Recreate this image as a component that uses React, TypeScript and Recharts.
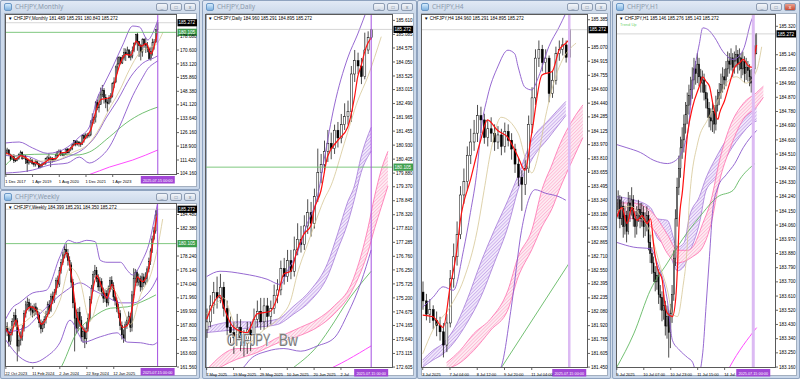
import React from 'react';
import { ComposedChart, Bar, Line, Area, XAxis, YAxis, ReferenceLine } from 'recharts';

const FONT = '"Liberation Sans", Arial, sans-serif';
const RED = '#ff1010';
const TAN = '#d6c795';
const BB = '#8a58cc';
const GRN = '#4fb04f';
const MAG = '#ff4cff';
const LAST = 185.272;
const LEVEL = 180.105;
const NOW_LABEL = '2025.07.15 00:00';

type Pt = [number, number];
type Rb = [number, number, number];

// ---------- Monthly (Dec 2017 .. Jul 2025) ----------
const mXTicks: [number, string][] = [[0, '1 Dec 2017'], [16, '1 Apr 2019'], [32, '1 Aug 2020'], [48, '1 Dec 2021'], [64, '1 Apr 2023']];
const mYTicks = [104.16, 111.42, 118.9, 126.16, 133.64, 141.12, 148.38, 155.86, 163.12, 170.6, 178.08];
const mClose = [
  115.6, 116.8, 114.3, 111.9, 113.9, 111.0, 111.3, 112.3, 114.3, 115.6, 112.2, 113.5, 111.6,
  109.8, 111.3, 111.5, 109.6, 109.1, 110.8, 109.4, 107.4, 108.2, 109.3, 109.3, 112.1,
  112.6, 111.7, 112.5, 111.1, 111.6, 113.7, 115.8, 116.2, 114.6, 114.1, 114.6, 117.3,
  115.3, 117.2, 117.4, 119.6, 121.8, 119.9, 121.1, 120.2, 119.7, 124.5, 123.1, 124.9,
  124.4, 124.9, 131.4, 133.0, 134.2, 142.3, 139.5, 141.4, 146.5, 148.9, 145.0, 142.6,
  141.9, 144.5, 145.8, 152.5, 153.4, 161.5, 163.1, 166.6, 163.6, 166.3, 169.4, 168.5,
  170.6, 166.6, 167.4, 170.4, 174.3, 178.9, 175.1, 173.0, 169.5, 176.4, 173.6, 173.2,
  171.2, 165.9, 169.8, 174.6, 174.9, 181.49, 185.272,
];
const mHigh = [
  116.3, 118.0, 117.3, 114.8, 114.3, 114.6, 112.4, 113.3, 115.0, 116.5, 116.1, 114.5, 114.1,
  112.0, 111.9, 112.5, 111.9, 110.2, 111.4, 111.1, 110.0, 109.3, 109.9, 110.3, 112.6,
  113.7, 114.8, 113.4, 113.0, 112.5, 114.8, 116.3, 117.1, 117.0, 115.2, 115.7, 117.7,
  117.9, 117.9, 118.5, 120.3, 122.1, 122.1, 122.0, 121.6, 121.2, 125.2, 125.5, 125.8,
  126.0, 126.2, 132.8, 136.5, 135.3, 143.2, 144.0, 146.8, 150.4, 151.8, 150.1, 146.8,
  144.1, 146.3, 147.4, 153.2, 155.9, 162.2, 166.8, 167.3, 167.0, 167.9, 171.6, 171.4,
  172.4, 171.1, 169.9, 172.5, 174.6, 179.3, 180.0, 175.4, 173.9, 176.9, 176.9, 177.3,
  174.9, 172.1, 172.1, 176.7, 176.5, 181.9, 185.291,
];
const mLow = [
  113.6, 114.8, 113.5, 110.8, 111.5, 109.8, 110.3, 110.8, 111.5, 113.4, 111.5, 111.9, 109.3,
  105.0, 108.9, 109.9, 108.9, 107.8, 107.9, 108.6, 106.8, 107.0, 107.7, 108.7, 109.0,
  111.3, 110.0, 107.6, 110.0, 110.4, 111.2, 112.8, 114.9, 113.5, 113.5, 113.4, 114.3,
  114.9, 114.8, 116.1, 116.7, 118.9, 118.8, 119.2, 118.6, 118.5, 119.5, 120.8, 122.6,
  123.1, 123.5, 124.2, 130.5, 130.8, 131.6, 138.2, 137.0, 141.1, 145.2, 141.8, 139.3,
  137.4, 141.3, 142.3, 145.0, 150.2, 152.8, 158.0, 162.1, 162.9, 163.1, 165.0, 164.7,
  167.8, 166.2, 165.0, 166.1, 169.4, 173.1, 170.2, 166.9, 165.0, 167.0, 171.8, 169.0,
  169.4, 165.2, 164.9, 167.6, 170.8, 174.4, 180.843,
];
const mRed: Pt[] = [[0, 115.2], [3, 114.0], [6, 111.8], [9, 113.8], [12, 112.6], [15, 110.6], [18, 109.9], [21, 108.6], [24, 110.5], [27, 112.2], [30, 112.2], [33, 115.3], [36, 115.6], [39, 117.8], [42, 120.3], [45, 120.1], [48, 123.9], [51, 128.0], [54, 137.8], [57, 144.0], [60, 144.5], [63, 145.3], [66, 156.0], [69, 164.5], [72, 168.2], [75, 167.8], [78, 175.4], [81, 172.6], [84, 174.0], [87, 168.6], [89, 173.2], [91, 180.7]];
const mTan: Pt[] = [[0, 114.5], [10, 113.0], [20, 110.8], [30, 111.3], [40, 115.5], [50, 120.5], [56, 128.5], [62, 139.0], [68, 148.5], [74, 160.0], [80, 169.0], [86, 172.0], [90, 173.5], [94, 180.0]];
const mBBUp: Pt[] = [[0, 120.6], [8, 121.1], [16, 117.9], [25, 115.0], [31, 115.8], [37, 118.4], [44, 123.8], [50, 129.2], [55, 145.3], [58, 150.7], [64, 161.5], [70, 173.3], [76, 183.5], [80, 183.0], [85, 176.0], [88, 179.7], [91, 186.7]];
const mBBMid: Pt[] = [[0, 113.8], [12, 113.5], [24, 110.0], [36, 112.8], [48, 118.5], [54, 124.5], [60, 134.0], [67, 143.7], [75, 156.5], [82, 163.5], [89, 166.5], [91, 167.5]];
const mBBLow: Pt[] = [[0, 104.4], [16, 106.0], [26, 108.7], [37, 109.8], [44, 113.0], [50, 109.8], [56, 112.5], [62, 118.4], [68, 129.2], [76, 146.0], [82, 156.0], [85, 160.5], [89, 163.6], [91, 164.8]];
const mGreen: Pt[] = [[0, 108.7], [8, 114.1], [26, 114.6], [42, 114.1], [50, 115.7], [62, 123.8], [72, 131.3], [82, 136.7], [91, 139.9]];
const mMag: Pt[] = [[46, 102.5], [50, 103.6], [62, 107.6], [76, 111.4], [91, 116.8]];

// ---------- Weekly (22 Oct 2023 .. 13 Jul 2025) ----------
const wXTicks: [number, string][] = [[0, '22 Oct 2023'], [16, '11 Feb 2024'], [32, '2 Jun 2024'], [48, '22 Sep 2024'], [64, '12 Jan 2025']];
const wYTicks = [161.56, 163.6, 165.7, 167.8, 169.9, 171.96, 174.04, 176.14, 178.24, 182.38, 184.48];
const wClose = [
  167.6, 166.9, 165.4, 166.8, 168.4, 169.3, 168.5, 164.7, 165.6, 166.2, 167.4,
  169.6, 170.9, 171.3, 170.6, 170.1, 169.8, 170.6, 169.9, 169.4, 168.2, 167.3, 167.9,
  168.7, 169.5, 171.0, 170.1, 172.2, 171.6, 172.8, 174.6, 174.0, 176.1, 177.3, 178.4,
  179.2, 178.6, 177.6, 176.9, 174.3, 171.2, 168.9, 167.4, 169.8, 168.6, 166.1, 166.9,
  165.8, 167.4, 168.9, 171.7, 173.4, 175.5, 176.1, 174.9, 173.6, 174.4, 172.8, 171.9,
  172.6, 171.2, 173.3, 174.6, 173.8, 172.1, 171.5, 170.4, 169.6, 167.8, 166.4, 165.9,
  167.9, 168.6, 169.2, 167.5, 172.4, 174.9, 175.8, 174.3, 174.8, 173.6, 175.1, 174.2,
  174.9, 176.3, 177.4, 179.0, 180.8, 182.0, 184.4, 185.272,
];
const wHigh = [
  168.4, 168.3, 167.4, 167.3, 168.9, 169.8, 170.3, 168.9, 166.4, 166.9, 167.9,
  170.1, 171.5, 172.0, 171.8, 171.2, 170.8, 171.1, 171.2, 170.5, 169.8, 168.7, 168.5,
  169.2, 170.0, 171.4, 171.6, 172.6, 172.9, 173.3, 175.0, 175.3, 176.6, 177.8, 178.9,
  179.8, 180.1, 179.3, 178.2, 177.3, 174.8, 171.9, 170.2, 170.4, 170.6, 169.2, 167.8,
  167.5, 168.3, 169.6, 172.2, 173.9, 176.0, 176.9, 176.6, 175.5, 175.1, 174.9, 173.5,
  173.2, 173.1, 173.8, 175.1, 175.2, 174.3, 172.9, 172.0, 171.1, 170.1, 168.4, 167.2,
  168.4, 169.1, 169.9, 169.7, 173.0, 176.4, 176.3, 176.1, 175.6, 175.3, 175.7, 175.6,
  175.8, 176.7, 178.0, 179.4, 181.3, 182.6, 185.1, 185.291,
];
const wLow = [
  166.4, 166.2, 164.6, 164.9, 166.3, 167.8, 167.6, 162.4, 163.9, 164.8, 165.5,
  166.9, 169.0, 170.1, 169.9, 169.3, 169.0, 169.2, 169.4, 168.7, 167.5, 166.6, 166.8,
  167.4, 168.1, 169.1, 169.5, 169.8, 171.0, 171.2, 172.4, 173.4, 173.6, 175.6, 176.9,
  177.9, 178.0, 176.8, 176.0, 173.5, 170.4, 163.9, 166.6, 166.9, 167.6, 165.4, 165.2,
  164.4, 165.0, 166.9, 168.4, 171.1, 172.9, 175.0, 174.3, 173.0, 172.9, 172.2, 171.2,
  171.3, 170.6, 170.8, 172.8, 173.2, 171.5, 170.8, 169.8, 168.9, 167.1, 165.7, 165.2,
  165.4, 167.3, 168.0, 166.8, 166.9, 171.9, 174.2, 173.7, 173.8, 172.9, 173.1, 173.6,
  173.9, 174.3, 175.8, 176.9, 178.7, 180.6, 181.6, 184.35,
];
const wRed: Pt[] = [[0, 167.3], [3, 166.4], [6, 168.6], [9, 165.9], [12, 170.0], [15, 170.6], [18, 170.1], [21, 168.0], [24, 168.9], [27, 171.0], [30, 173.4], [33, 176.6], [36, 178.8], [39, 175.2], [42, 169.4], [45, 167.6], [48, 166.8], [51, 172.3], [54, 175.3], [57, 173.5], [60, 171.9], [63, 174.0], [66, 171.2], [69, 167.5], [72, 167.8], [75, 170.5], [78, 175.1], [81, 174.4], [84, 175.6], [87, 179.9], [89, 183.3], [90, 184.6]];
const wTan: Pt[] = [[0, 167.5], [8, 167.8], [14, 168.9], [20, 170.2], [26, 169.0], [32, 171.5], [38, 176.5], [44, 174.5], [50, 168.5], [56, 172.5], [62, 173.5], [68, 171.5], [74, 168.0], [80, 172.5], [86, 175.5], [90, 179.5], [93, 183.8]];
const wBBUp: Pt[] = [[0, 168.8], [4, 170.5], [8, 171.2], [16, 172.7], [24, 173.1], [32, 178.1], [37, 180.6], [42, 180.2], [48, 180.6], [53, 180.4], [56, 177.6], [60, 177.3], [68, 177.3], [72, 176.1], [75, 175.4], [81, 177.6], [85, 180.2], [88, 183.7], [90, 186.2]];
const wBBMid: Pt[] = [[0, 166.8], [12, 167.5], [20, 169.5], [26, 171.0], [36, 173.1], [44, 174.2], [52, 173.1], [60, 172.1], [68, 171.2], [76, 171.2], [82, 172.1], [87, 173.6], [90, 175.1]];
const wBBLow: Pt[] = [[0, 165.6], [8, 163.1], [16, 162.2], [24, 163.1], [32, 165.2], [38, 168.6], [44, 166.1], [46, 165.3], [56, 166.1], [66, 166.7], [72, 165.3], [80, 165.2], [87, 164.9], [90, 165.3]];
const wGreen: Pt[] = [[30, 160.5], [32, 161.2], [42, 166.7], [52, 169.1], [62, 170.4], [72, 170.6], [80, 171.3], [89, 172.4]];

// ---------- Daily (7 May .. 15 Jul 2025) ----------
const dXTicks: [number, string][] = [[0, '7 May 2025'], [8, '19 May 2025'], [16, '29 May 2025'], [24, '10 Jun 2025'], [32, '20 Jun 2025'], [40, '2 Jul']];
const dYTicks = [172.605, 173.115, 173.64, 174.165, 174.675, 175.2, 175.725, 176.25, 176.76, 177.285, 177.81, 178.32, 178.845, 179.37, 179.88, 180.405, 180.93, 181.455, 181.965, 182.49, 183.015, 183.525, 184.05, 184.575, 185.085, 185.61];
const dClose = [
  174.3, 174.9, 175.4, 175.2, 175.6, 174.8, 174.1, 173.9, 173.7, 174.1,
  173.6, 173.5, 174.0, 173.8, 174.4, 174.7, 174.3, 174.9, 174.5, 174.8,
  175.3, 175.5, 176.3, 176.0, 176.6, 176.2, 177.0, 177.4, 177.2, 177.9,
  178.4, 178.0, 179.0, 179.9, 180.2, 180.7, 181.0, 180.8, 181.49, 181.2,
  181.7, 182.0, 182.2, 183.6, 184.1, 183.9, 183.5, 184.5, 184.96, 185.272,
];
const dHigh = [
  174.8, 175.3, 175.8, 176.0, 176.1, 175.8, 175.1, 174.5, 174.3, 174.6,
  174.4, 174.0, 174.3, 174.3, 174.8, 175.1, 175.2, 175.2, 175.2, 175.1,
  175.7, 175.9, 176.6, 176.7, 177.0, 177.0, 177.5, 178.0, 177.9, 178.3,
  178.9, 178.8, 179.3, 180.8, 180.6, 181.1, 181.5, 181.4, 181.7, 181.8,
  182.1, 182.5, 182.6, 183.9, 184.5, 184.4, 184.2, 185.15, 185.2, 185.291,
];
const dLow = [
  173.7, 174.1, 174.6, 174.8, 175.0, 174.5, 173.8, 173.5, 173.1, 173.4,
  173.2, 173.0, 173.1, 173.2, 173.5, 174.1, 174.0, 174.0, 174.1, 174.2,
  174.6, 175.0, 175.3, 175.7, 175.8, 175.9, 176.0, 176.8, 176.9, 177.0,
  177.6, 177.5, 177.8, 178.8, 179.5, 179.9, 180.3, 180.4, 180.6, 180.843,
  181.0, 181.5, 181.7, 181.8, 183.3, 183.6, 183.22, 183.4, 184.35, 184.895,
];
const dRed: Pt[] = [[0, 174.4], [2, 175.0], [4, 175.3], [5, 174.9], [8, 174.1], [12, 173.9], [15, 174.6], [19, 174.7], [21, 175.2], [23, 176.1], [25, 176.2], [27, 177.0], [29, 177.6], [31, 177.9], [32, 178.5], [34, 179.2], [36, 180.5], [39, 181.1], [42, 181.6], [44, 182.7], [45, 183.5], [46, 183.9], [47, 184.4], [48, 184.75], [49, 184.95]];
const dTan: Pt[] = [[0, 174.6], [3, 175.0], [5, 175.2], [8, 174.3], [12, 173.5], [17, 174.0], [22, 174.5], [25, 175.1], [27, 176.1], [30, 177.2], [32, 177.9], [35, 178.9], [37, 179.4], [41, 181.0], [45, 182.6], [48, 183.5], [52, 185.0]];
const dBBUp: Pt[] = [[0, 176.0], [4, 176.2], [11, 176.1], [18, 175.9], [22, 175.7], [24, 176.2], [27, 176.9], [30, 178.0], [33, 179.0], [35, 180.4], [38, 182.4], [42, 184.2], [45, 185.1], [48, 186.1]];
const dBBLow: Pt[] = [[0, 172.3], [6, 172.2], [11, 172.6], [13, 172.9], [18, 173.2], [23, 173.3], [28, 173.2], [33, 173.4], [38, 173.7], [42, 174.6], [46, 175.8], [49, 177.0]];
const dRibA: Rb[] = [[0, 173.9, 174.1], [8, 174.0, 174.3], [15, 174.1, 174.3], [21, 174.2, 174.4], [26, 174.6, 174.9], [31, 175.1, 175.5], [36, 176.0, 176.5], [39, 177.0, 177.6], [42, 178.0, 178.8], [44, 178.9, 179.4], [46, 179.9, 180.5], [49, 180.7, 181.6]];
const dRibB: Rb[] = [[0, 172.3, 172.5], [9, 172.9, 173.3], [14, 173.1, 173.3], [21, 173.5, 173.7], [28, 173.8, 174.1], [33, 174.1, 174.4], [38, 174.6, 174.9], [43, 175.4, 175.7], [46, 176.2, 176.8], [48, 176.9, 177.8], [50, 177.8, 179.0], [52, 178.6, 180.0], [54, 179.4, 180.7]];
const dGreen: Pt[] = [[24, 172.4], [25, 172.5], [33, 173.4], [38, 174.3], [41, 174.9], [49, 176.2]];
const dMag: Pt[] = [[34, 172.4], [35, 172.45], [49, 173.4]];

// ---------- H4 (3 Jul 20:00 .. 15 Jul 00:00) ----------
const h4XTicks: [number, string][] = [[0, '3 Jul 2025'], [8, '7 Jul 04:00'], [16, '8 Jul 12:00'], [24, '9 Jul 20:00'], [32, '11 Jul 04:00']];
const h4YTicks = [181.45, 181.605, 181.765, 181.92, 182.08, 182.235, 182.395, 182.55, 182.71, 182.865, 183.025, 183.18, 183.34, 183.495, 183.655, 183.81, 183.97, 184.125, 184.285, 184.44, 184.6, 184.755, 184.915, 185.07, 185.385];
const h4Close = [
  182.20, 182.05, 182.10, 181.98, 181.92, 181.85, 181.70, 181.95, 182.45, 182.70,
  182.95, 183.40, 183.55, 183.85, 184.00, 184.10, 184.30, 184.25, 184.05, 184.15,
  184.10, 184.00, 184.08, 183.95, 184.12, 184.02, 183.92, 183.75, 183.60, 183.52,
  183.70, 184.20, 184.50, 184.95, 185.05, 184.90, 184.95, 184.55, 184.70, 185.00,
  185.05, 185.10, 184.96, 185.272,
];
const h4High = [
  182.42, 182.28, 182.22, 182.15, 182.08, 182.02, 181.95, 182.05, 182.55, 182.85,
  183.10, 183.50, 183.70, 183.95, 184.15, 184.25, 184.42, 184.40, 184.32, 184.25,
  184.28, 184.20, 184.18, 184.15, 184.22, 184.20, 184.10, 183.98, 183.82, 183.68,
  183.80, 184.30, 184.62, 185.05, 185.15, 185.10, 185.05, 184.98, 184.80, 185.08,
  185.15, 185.18, 185.15, 185.291,
];
const h4Low = [
  182.10, 181.98, 181.95, 181.88, 181.80, 181.75, 181.56, 181.62, 181.90, 182.35,
  182.60, 182.90, 183.30, 183.45, 183.75, 183.90, 184.00, 184.10, 183.98, 183.95,
  184.00, 183.90, 183.92, 183.85, 183.88, 183.95, 183.80, 183.65, 183.50, 183.22,
  183.40, 183.65, 184.10, 184.42, 184.85, 184.80, 184.78, 184.45, 184.50, 184.65,
  184.92, 184.98, 184.90, 184.895,
];
const h4Red: Pt[] = [[0, 182.04], [3, 182.02], [6, 181.9], [8, 182.35], [10, 182.77], [11, 183.1], [14, 183.57], [17, 184.02], [19, 184.25], [22, 184.13], [25, 184.05], [28, 183.83], [30, 183.68], [32, 184.1], [35, 184.76], [38, 184.8], [40, 185.04], [42, 185.12], [43, 185.16]];
const h4Tan: Pt[] = [[0, 181.6], [3, 181.87], [8, 182.13], [12, 182.44], [16, 183.0], [18, 183.45], [20, 183.9], [23, 184.28], [28, 184.1], [30, 183.83], [32, 183.65], [34, 183.87], [36, 184.28], [39, 184.74], [41, 184.93], [45, 185.12]];
const h4BBUp: Pt[] = [[0, 182.13], [3, 182.24], [6, 182.36], [9, 182.32], [12, 182.78], [14, 183.2], [16, 183.7], [17, 184.1], [19, 184.51], [22, 184.85], [25, 185.04], [27, 185.0], [28, 184.85], [30, 184.62], [32, 184.59], [34, 184.74], [37, 185.08], [40, 185.3], [42, 185.46]];
const h4BBLow: Pt[] = [[0, 181.3], [10, 181.2], [20, 181.3], [23, 181.45], [26, 182.13], [29, 183.0], [33, 183.46], [36, 183.42], [40, 183.38], [42, 183.34]];
const h4RibA: Rb[] = [[0, 181.45, 181.53], [3, 181.53, 181.64], [6, 181.6, 181.72], [9, 181.72, 181.87], [13, 181.95, 182.21], [17, 182.24, 182.63], [21, 182.63, 183.0], [25, 183.04, 183.34], [28, 183.46, 183.62], [32, 183.8, 184.02], [37, 184.05, 184.25], [42, 184.3, 184.46]];
const h4RibB: Rb[] = [[7, 181.43, 181.5], [11, 181.5, 181.64], [15, 181.64, 181.83], [20, 181.87, 182.0], [25, 182.1, 182.32], [28, 182.47, 182.7], [32, 182.78, 183.0], [35, 183.04, 183.46], [38, 183.25, 183.75], [40, 183.45, 183.95], [44, 183.8, 184.25], [47, 184.05, 184.42]];
const h4Green: Pt[] = [[22, 181.38], [43, 182.63]];

// ---------- H1 (9 Jul 15:00 .. 15 Jul 02:00) ----------
const h1XTicks: [number, string][] = [[0, '9 Jul 2025'], [16, '10 Jul 07:00'], [32, '10 Jul 23:00'], [48, '11 Jul 15:00'], [64, '14 Jul']];
const h1YTicks = [183.16, 183.25, 183.34, 183.43, 183.52, 183.61, 183.7, 183.79, 183.88, 183.97, 184.06, 184.15, 184.24, 184.33, 184.42, 184.51, 184.6, 184.69, 184.78, 184.87, 184.96, 185.05, 185.14, 185.32];
const h1Close = [
  184.15, 184.22, 184.10, 184.18, 184.05, 184.12, 184.02, 184.20, 184.15, 184.22,
  184.10, 184.05, 184.12, 184.16, 184.10, 184.14, 184.05, 184.08, 184.12, 183.95,
  183.88, 183.82, 183.76, 183.70, 183.74, 183.62, 183.60, 183.52, 183.55, 183.42,
  183.48, 183.38, 183.50, 183.62, 183.85, 184.10, 184.30, 184.42, 184.55, 184.60,
  184.70, 184.76, 184.82, 184.88, 184.92, 184.98, 185.05, 185.02, 185.08, 185.00,
  184.96, 184.98, 184.90, 184.86, 184.80, 184.74, 184.72, 184.78, 184.70, 184.82,
  184.86, 184.90, 184.95, 185.00, 184.98, 185.05, 185.10, 185.08, 185.12, 185.06,
  185.10, 185.14, 185.08, 185.12, 185.05, 185.10, 185.02, 185.06, 185.04, 185.00,
  184.96, 185.05, 185.146, 185.272,
];
const h1High = [
  184.26, 184.28, 184.25, 184.24, 184.21, 184.18, 184.15, 184.27, 184.25, 184.30,
  184.25, 184.15, 184.18, 184.22, 184.20, 184.20, 184.18, 184.14, 184.18, 184.15,
  184.00, 183.92, 183.86, 183.80, 183.80, 183.78, 183.68, 183.64, 183.62, 183.58,
  183.55, 183.52, 183.56, 183.68, 183.90, 184.16, 184.36, 184.50, 184.62, 184.68,
  184.76, 184.84, 184.90, 184.95, 185.00, 185.06, 185.12, 185.10, 185.15, 185.12,
  185.05, 185.04, 185.02, 184.95, 184.90, 184.84, 184.80, 184.84, 184.82, 184.88,
  184.92, 184.96, 185.02, 185.06, 185.05, 185.10, 185.16, 185.15, 185.18, 185.15,
  185.16, 185.20, 185.17, 185.18, 185.15, 185.16, 185.13, 185.12, 185.10, 185.08,
  185.05, 185.10, 185.20, 185.276,
];
const h1Low = [
  184.08, 184.10, 184.04, 184.06, 183.98, 184.00, 183.95, 184.00, 184.08, 184.12,
  184.05, 183.98, 184.00, 184.08, 184.04, 184.05, 183.98, 183.99, 184.02, 183.90,
  183.82, 183.75, 183.70, 183.64, 183.65, 183.56, 183.52, 183.45, 183.46, 183.36,
  183.34, 183.22, 183.28, 183.44, 183.58, 183.80, 184.05, 184.25, 184.36, 184.48,
  184.52, 184.64, 184.70, 184.76, 184.82, 184.86, 184.92, 184.95, 184.96, 184.94,
  184.90, 184.90, 184.85, 184.80, 184.74, 184.68, 184.66, 184.65, 184.64, 184.66,
  184.78, 184.82, 184.86, 184.90, 184.92, 184.94, 185.00, 185.02, 185.04, 185.00,
  185.02, 185.06, 185.02, 185.04, 184.99, 185.01, 184.96, 184.98, 184.97, 184.94,
  184.90, 184.895, 185.02, 185.143,
];
const h1Red: Pt[] = [[0, 184.11], [3, 184.17], [6, 184.07], [9, 184.17], [12, 184.09], [15, 184.12], [18, 184.07], [20, 184.1], [22, 183.92], [24, 183.79], [27, 183.71], [28, 183.6], [30, 183.5], [33, 183.48], [35, 183.6], [36, 183.79], [37, 184.07], [39, 184.28], [42, 184.64], [45, 184.81], [49, 184.94], [51, 185.0], [53, 184.97], [55, 184.94], [57, 184.83], [60, 184.73], [61, 184.77], [64, 184.85], [67, 184.96], [70, 185.06], [73, 185.09], [75, 185.11], [78, 185.07], [80, 185.06], [82, 185.15], [83, 185.2]];
const h1Tan: Pt[] = [[0, 184.15], [8, 184.18], [14, 184.12], [20, 184.01], [26, 183.79], [30, 183.65], [33, 183.5], [36, 183.48], [39, 183.65], [42, 183.97], [43, 184.2], [48, 184.58], [54, 184.73], [60, 184.85], [65, 184.96], [71, 185.0], [77, 184.96], [83, 185.04], [86, 185.19]];
const h1BBUp: Pt[] = [[0, 184.57], [6, 184.55], [14, 184.52], [22, 184.47], [30, 184.45], [35, 184.47], [42, 184.64], [45, 184.96], [49, 185.21], [51, 185.31], [54, 185.3], [58, 185.25], [63, 185.16], [69, 185.11], [75, 185.17], [80, 185.36], [83, 185.42]];
const h1BBLow: Pt[] = [[0, 183.95], [10, 183.92], [20, 183.91], [24, 183.82], [30, 183.58], [33, 183.33], [37, 183.27], [42, 183.22], [45, 183.19], [48, 183.1], [51, 183.25], [53, 183.55], [55, 183.86], [57, 184.16], [60, 184.3], [65, 184.38], [70, 184.45], [75, 184.55], [83, 184.66]];
const h1RibA: Rb[] = [[0, 184.16, 184.24], [10, 184.12, 184.22], [20, 184.07, 184.17], [24, 183.98, 184.1], [30, 183.92, 184.09], [36, 183.77, 183.92], [40, 183.8, 183.95], [43, 183.88, 184.11], [49, 184.07, 184.24], [53, 184.28, 184.36], [59, 184.36, 184.49], [65, 184.49, 184.6], [73, 184.62, 184.71], [81, 184.71, 184.79], [83, 184.72, 184.81]];
const h1RibB: Rb[] = [[0, 184.12, 184.2], [9, 184.1, 184.2], [20, 184.05, 184.15], [24, 184.0, 184.1], [30, 183.88, 184.0], [36, 183.82, 183.9], [42, 183.84, 183.9], [45, 183.86, 183.92], [51, 183.92, 184.07], [56, 184.07, 184.22], [61, 184.34, 184.47], [67, 184.54, 184.68], [75, 184.73, 184.83], [83, 184.81, 184.9], [87, 184.87, 184.94]];
const h1Green: Pt[] = [[0, 183.16], [10, 183.37], [20, 183.65], [30, 183.82], [39, 183.97], [49, 184.11], [60, 184.24], [69, 184.28], [73, 184.35], [82, 184.45]];
const h1Mag: Pt[] = [[66, 183.14], [67, 183.16], [83, 183.41]];

// ---------- components ----------
type LineSpec = { key: string; pts: Pt[]; color: string; w: number };
type RibSpec = { key: string; pts: Rb[]; edge: string; fill: string };
type PanelSpec = {
  left: number; top: number; w: number; h: number; axisW: number; slots: number;
  open0: number; close: number[]; high: number[]; low: number[];
  domain: [number, number]; yTicks: number[]; xTicks: [number, string][];
  vIdx: number; vColor: string; vWidth: number; barSize: number;
  lines: LineSpec[]; ribs: RibSpec[]; level?: boolean; header: string;
};

function buildRows(p: PanelSpec) {
  const rows: any[] = [];
  for (let i = 0; i < p.slots; i++) {
    const r: any = { i };
    if (i < p.close.length) {
      r.o = i === 0 ? p.open0 : p.close[i - 1];
      r.c = p.close[i];
      r.hl = [p.low[i], p.high[i]];
    }
    rows.push(r);
  }
  p.lines.forEach((l) => l.pts.forEach(([i, v]) => { if (rows[i]) rows[i][l.key] = v; }));
  p.ribs.forEach((rb) => rb.pts.forEach(([i, a, b]) => { if (rows[i]) rows[i][rb.key] = [a, b]; }));
  return rows;
}

const Candle = (p: any) => {
  const { x, y, width, height, payload } = p;
  if (!payload || !payload.hl) return <g />;
  const [lo, hi] = payload.hl;
  const top = Math.min(y, y + height);
  const hgt = Math.abs(height);
  const span = hi - lo || 1;
  const py = (v: number) => top + ((hi - v) / span) * hgt;
  const cx = x + width / 2;
  const yo = py(payload.o);
  const yc = py(payload.c);
  const up = payload.c >= payload.o;
  const bt = Math.min(yo, yc);
  const bh = Math.max(Math.abs(yo - yc), 0.7);
  return (
    <g>
      <line x1={cx} x2={cx} y1={top} y2={top + hgt} stroke="#000" strokeWidth={0.7} />
      <rect x={x} y={bt} width={Math.max(width, 1)} height={bh} fill={up ? '#fff' : '#000'} stroke="#000" strokeWidth={0.5} />
    </g>
  );
};

function XTick(props: any) {
  const { x, y, payload, labels } = props;
  const t = labels[payload.value];
  if (!t) return null;
  return (
    <g>
      <line x1={x} x2={x} y1={y} y2={y + 2} stroke="#000" strokeWidth={0.6} />
      <text x={x - 0.5} y={y + 7.5} fontSize={4} fontFamily={FONT} fill="#000">{t}</text>
    </g>
  );
}

function PriceTag({ vb, text, bg }: { vb: any; text: string; bg: string }) {
  if (!vb) return null;
  const x = vb.x + vb.width + 0.5;
  return (
    <g>
      <rect x={x} y={vb.y - 3.6} width={19.5} height={7.2} fill={bg} />
      <text x={x + 1} y={vb.y + 1.7} fontSize={4.6} fontFamily={FONT} fill="#fff">{text}</text>
    </g>
  );
}

function TimeTag({ vb }: { vb: any }) {
  if (!vb) return null;
  const b = vb.y + vb.height + 1;
  return (
    <g>
      <rect x={vb.x - 17} y={b} width={34} height={7.5} fill="#a246d6" />
      <text x={vb.x} y={b + 5.5} fontSize={3.8} fontFamily={FONT} fill="#fff" textAnchor="middle">{NOW_LABEL}</text>
    </g>
  );
}

function Panel({ d }: { d: PanelSpec }) {
  const rows = buildRows(d);
  const labels: Record<number, string> = {};
  d.xTicks.forEach(([i, s]) => { labels[i] = s; });
  return (
    <>
      <div style={{ position: 'absolute', left: d.left, top: d.top }}>
        <ComposedChart width={d.w + d.axisW} height={d.h + 10} data={rows} margin={{ top: 0, right: 0, bottom: 0, left: 0 }} barCategoryGap={0} barGap={0}>
          <XAxis dataKey="i" type="category" ticks={d.xTicks.map((t) => t[0])} interval={0} height={10} axisLine={false} tickLine={false} tickSize={0} tickMargin={0} tick={(tp: any) => <XTick {...tp} labels={labels} />} />
          <YAxis orientation="right" width={d.axisW} type="number" domain={d.domain} ticks={d.yTicks} allowDataOverflow interval={0} axisLine={false} tickSize={2} tickMargin={1} tickLine={{ stroke: '#000', strokeWidth: 0.6 }} tick={{ fontSize: 4.6, fill: '#000', fontFamily: FONT }} tickFormatter={(v: number) => v.toFixed(3)} />
          {d.ribs.map((rb) => (
            <Area key={rb.key} dataKey={rb.key} type="monotone" stroke={rb.edge} strokeWidth={0.8} fill={`url(#${rb.fill})`} fillOpacity={1} connectNulls dot={false} activeDot={false} isAnimationActive={false} />
          ))}
          <Bar dataKey="hl" barSize={d.barSize} shape={Candle} isAnimationActive={false} />
          {d.lines.map((l) => (
            <Line key={l.key} dataKey={l.key} type="monotone" stroke={l.color} strokeWidth={l.w} dot={false} activeDot={false} connectNulls isAnimationActive={false} />
          ))}
          <ReferenceLine y={LAST} stroke="#c4c4c4" strokeWidth={0.7} label={(lp: any) => <PriceTag vb={lp.viewBox} text={LAST.toFixed(3)} bg="#000" />} />
          {d.level && (
            <ReferenceLine y={LEVEL} stroke="#72c272" strokeWidth={0.9} label={(lp: any) => <PriceTag vb={lp.viewBox} text={LEVEL.toFixed(3)} bg="#3e9e4e" />} />
          )}
          <ReferenceLine x={d.vIdx} stroke={d.vColor} strokeWidth={d.vWidth} label={(lp: any) => <TimeTag vb={lp.viewBox} />} />
        </ComposedChart>
      </div>
      <div style={{ position: 'absolute', left: d.left, top: d.top, width: d.w, height: d.h, boxSizing: 'border-box', border: '1px solid #5a5a5a', pointerEvents: 'none' }} />
      <div style={{ position: 'absolute', left: d.left + 3, top: d.top + 1.5, fontSize: 4.5, lineHeight: '6px', fontFamily: FONT, color: '#000', whiteSpace: 'nowrap' }}>
        {'\u25BC '}{d.header}
      </div>
    </>
  );
}

function Win({ x, y, w, h, title, active }: { x: number; y: number; w: number; h: number; title: string; active?: boolean }) {
  const btn = (right: number, red: boolean, glyph: string) => (
    <div style={{ position: 'absolute', top: 2, right, width: 12, height: 8, borderRadius: 2, border: '1px solid #8e9db3', boxSizing: 'border-box', background: red ? 'linear-gradient(#eba18f,#c64a34)' : 'linear-gradient(#f3f6fa,#d2dae6)', fontSize: 5, lineHeight: '6px', textAlign: 'center', color: red ? '#fff' : '#6a7a90', fontFamily: FONT }}>{glyph}</div>
  );
  return (
    <div style={{ position: 'absolute', left: x, top: y, width: w, height: h, boxSizing: 'border-box', border: '1px solid #8fa3bf', borderRadius: 2, background: 'linear-gradient(#e1e9f5, #cddaeb 12px, #c9d7ea)' }}>
      <div style={{ position: 'absolute', left: 3, top: 2, width: 8, height: 8, borderRadius: 2, background: 'linear-gradient(#d4ebfd,#7fb2e0)', border: '1px solid #6b98c6', boxSizing: 'border-box' }} />
      <div style={{ position: 'absolute', left: 14, top: 1, fontSize: 6.5, lineHeight: '10px', color: '#8a99ad', fontFamily: '"Noto Sans", sans-serif', whiteSpace: 'nowrap' }}>{title}</div>
      {btn(31, false, '_')}
      {btn(17, false, '\u25A1')}
      {btn(3, !!active, 'x')}
      <div style={{ position: 'absolute', left: 3, top: 12, right: 2, bottom: 2, background: '#fff', border: '1px solid #a3afbf' }} />
    </div>
  );
}

export default function App() {
  const std = (pre: string, red: Pt[], tan: Pt[], bu: Pt[], bl: Pt[], extra: LineSpec[]): LineSpec[] => [
    ...extra,
    { key: pre + 'bu', pts: bu, color: BB, w: 0.9 },
    { key: pre + 'bl', pts: bl, color: BB, w: 0.9 },
    { key: pre + 'tn', pts: tan, color: TAN, w: 0.8 },
    { key: pre + 'rd', pts: red, color: RED, w: 1.2 },
  ];

  const monthly: PanelSpec = {
    left: 5, top: 14, w: 172, h: 161, axisW: 21, slots: 103, open0: 114.0,
    close: mClose, high: mHigh, low: mLow, domain: [103.35, 189.97], yTicks: mYTicks, xTicks: mXTicks,
    vIdx: 91, vColor: '#a44fe0', vWidth: 1, barSize: 1, level: true,
    header: 'CHFJPY,Monthly  181.489 185.291 180.843 185.272', ribs: [],
    lines: std('m', mRed, mTan, mBBUp, mBBLow, [
      { key: 'mg', pts: mGreen, color: GRN, w: 0.8 },
      { key: 'mm', pts: mMag, color: MAG, w: 1 },
      { key: 'mbm', pts: mBBMid, color: BB, w: 0.9 },
    ]),
  };
  const weekly: PanelSpec = {
    left: 5, top: 203, w: 172, h: 164, axisW: 21, slots: 102, open0: 167.0,
    close: wClose, high: wHigh, low: wLow, domain: [161.56, 186.21], yTicks: wYTicks, xTicks: wXTicks,
    vIdx: 90, vColor: '#a44fe0', vWidth: 1, barSize: 1, level: true,
    header: 'CHFJPY,Weekly  184.399 185.291 184.350 185.272', ribs: [],
    lines: std('w', wRed, wTan, wBBUp, wBBLow, [
      { key: 'wg', pts: wGreen, color: GRN, w: 0.8 },
      { key: 'wbm', pts: wBBMid, color: BB, w: 0.9 },
    ]),
  };
  const daily: PanelSpec = {
    left: 205, top: 14, w: 188, h: 354, axisW: 21, slots: 56, open0: 174.0,
    close: dClose, high: dHigh, low: dLow, domain: [172.57, 185.85], yTicks: dYTicks, xTicks: dXTicks,
    vIdx: 49, vColor: '#a44fe0', vWidth: 1, barSize: 2, level: true,
    header: 'CHFJPY,Daily  184.960 185.291 184.895 185.272',
    ribs: [
      { key: 'dra', pts: dRibA, edge: '#a57ad8', fill: 'hatchPurple' },
      { key: 'drb', pts: dRibB, edge: '#ff6fae', fill: 'hatchPink' },
    ],
    lines: std('d', dRed, dTan, dBBUp, dBBLow, [
      { key: 'dg', pts: dGreen, color: GRN, w: 0.8 },
      { key: 'dm', pts: dMag, color: MAG, w: 1 },
    ]),
  };
  const h4: PanelSpec = {
    left: 421, top: 14, w: 167, h: 354, axisW: 20, slots: 49, open0: 182.3,
    close: h4Close, high: h4High, low: h4Low, domain: [181.44, 185.45], yTicks: h4YTicks, xTicks: h4XTicks,
    vIdx: 43, vColor: '#dcbaf3', vWidth: 2.5, barSize: 2,
    header: 'CHFJPY,H4  184.960 185.291 184.895 185.272',
    ribs: [
      { key: 'hra', pts: h4RibA, edge: '#a57ad8', fill: 'hatchPurple' },
      { key: 'hrb', pts: h4RibB, edge: '#ff6fae', fill: 'hatchPink' },
    ],
    lines: std('h', h4Red, h4Tan, h4BBUp, h4BBLow, [{ key: 'hg', pts: h4Green, color: GRN, w: 0.8 }]),
  };
  const h1: PanelSpec = {
    left: 616, top: 14, w: 160, h: 354, axisW: 21, slots: 95, open0: 184.2,
    close: h1Close, high: h1High, low: h1Low, domain: [183.154, 185.398], yTicks: h1YTicks, xTicks: h1XTicks,
    vIdx: 81, vColor: '#dcbaf3', vWidth: 3, barSize: 1,
    header: 'CHFJPY,H1  185.146 185.276 185.143 185.272',
    ribs: [
      { key: 'ora', pts: h1RibA, edge: '#a57ad8', fill: 'hatchPurple' },
      { key: 'orb', pts: h1RibB, edge: '#ff6fae', fill: 'hatchPink' },
    ],
    lines: std('o', h1Red, h1Tan, h1BBUp, h1BBLow, [
      { key: 'og', pts: h1Green, color: GRN, w: 0.8 },
      { key: 'om', pts: h1Mag, color: MAG, w: 1 },
    ]),
  };

  return (
    <div style={{ position: 'absolute', left: 0, top: 0, width: 800, height: 379, overflow: 'hidden', background: '#d6dfeb' }}>
      <svg width={0} height={0} style={{ position: 'absolute' }}>
        <defs>
          <pattern id="hatchPurple" patternUnits="userSpaceOnUse" width={2.4} height={2.4} patternTransform="rotate(45)">
            <rect width={2.4} height={2.4} fill="#f1e8fb" />
            <line x1={0} y1={0} x2={0} y2={2.4} stroke="#b48ce4" strokeWidth={1} />
          </pattern>
          <pattern id="hatchPink" patternUnits="userSpaceOnUse" width={2.4} height={2.4} patternTransform="rotate(45)">
            <rect width={2.4} height={2.4} fill="#fdebf2" />
            <line x1={0} y1={0} x2={0} y2={2.4} stroke="#ff9cc6" strokeWidth={1} />
          </pattern>
        </defs>
      </svg>
      <Win x={0} y={0} w={200} h={190} title="CHFJPY,Monthly" />
      <Win x={0} y={190} w={200} h={189} title="CHFJPY,Weekly" />
      <Win x={202} y={0} w={215} h={379} title="CHFJPY,Daily" />
      <Win x={417} y={0} w={194} h={379} title="CHFJPY,H4" />
      <Win x={612} y={0} w={188} h={379} title="CHFJPY,H1" active />
      <Panel d={monthly} />
      <Panel d={weekly} />
      <Panel d={daily} />
      <Panel d={h4} />
      <Panel d={h1} />
      <div style={{ position: 'absolute', left: 227, top: 332, fontSize: 16, fontFamily: FONT, color: '#7a7a7a', transform: 'scaleX(0.7)', transformOrigin: 'left top', textShadow: '1px 1px 0 #fff, -1px -1px 0 #cfcfcf', whiteSpace: 'nowrap' }}>CHFJPY</div>
      <div style={{ position: 'absolute', left: 279, top: 332, fontSize: 16, fontFamily: FONT, color: '#7a7a7a', transform: 'scaleX(0.85)', transformOrigin: 'left top', textShadow: '1px 1px 0 #fff, -1px -1px 0 #cfcfcf', whiteSpace: 'nowrap' }}>Bw</div>
      <div style={{ position: 'absolute', left: 620, top: 22, fontSize: 4, fontFamily: FONT, color: '#6fd36f', whiteSpace: 'nowrap' }}>Trend Up</div>
    </div>
  );
}
